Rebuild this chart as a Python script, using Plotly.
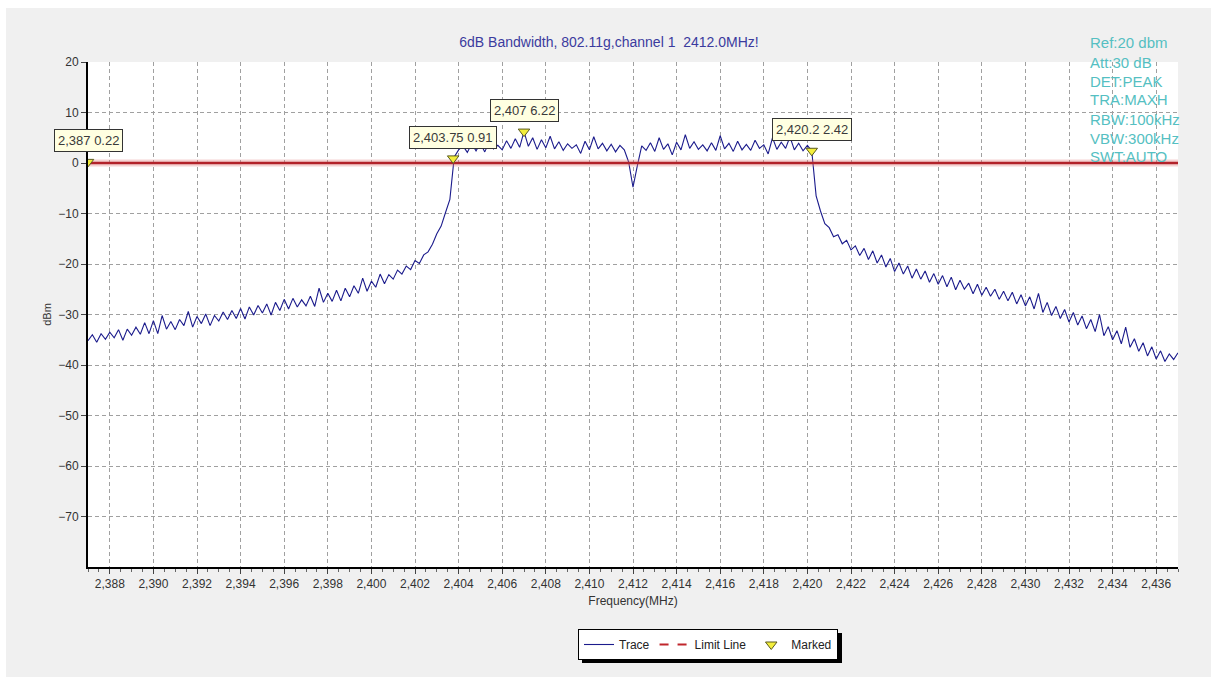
import plotly.graph_objects as go

# ---------------- data ----------------
freq_start = 2387.0   # MHz, first sample
freq_step = 0.2       # MHz between samples

# measured trace level (dBm), one row per MHz (x.0, x.2, x.4, x.6, x.8)
level_dbm = [
    -35.2, -34.0, -35.5, -33.8, -34.9,   # 2387
    -33.5, -34.6, -33.0, -35.1, -32.9,   # 2388
    -34.1, -32.5, -33.9, -31.6, -33.8,   # 2389
    -31.2, -33.8, -30.2, -32.9, -31.4,   # 2390
    -33.0, -31.0, -32.2, -29.4, -32.5,   # 2391
    -30.4, -31.8, -29.9, -32.2, -30.2,   # 2392
    -31.3, -29.5, -31.0, -29.2, -30.8,   # 2393
    -28.8, -30.9, -28.5, -30.1, -28.2,   # 2394
    -29.7, -27.9, -30.1, -27.6, -29.2,   # 2395
    -27.0, -28.9, -26.8, -28.5, -27.1,   # 2396
    -28.3, -26.4, -28.4, -24.8, -27.6,   # 2397
    -25.8, -27.4, -25.2, -27.3, -24.8,   # 2398
    -26.5, -24.3, -25.8, -22.8, -25.4,   # 2399
    -23.4, -24.6, -22.0, -23.9, -22.1,   # 2400
    -23.0, -21.2, -22.0, -20.4, -21.1,   # 2401
    -19.3, -19.9, -18.2, -17.6, -16.1,   # 2402
    -14.0, -12.5, -9.8, -7.2, 1.2,       # 2403
    2.6, 3.4, 2.1, 3.8, 2.4,             # 2404
    3.9, 2.2, 4.1, 2.8, 3.5,             # 2405
    2.6, 4.4, 2.9, 4.8, 3.1,             # 2406
    6.2, 3.3, 5.0, 2.7, 4.6,             # 2407
    3.0, 5.3, 2.8, 4.2, 2.5,             # 2408
    3.8, 2.9, 3.6, 1.9, 4.3,             # 2409
    2.6, 5.2, 2.8, 3.9, 2.4,             # 2410
    3.7, 2.2, 3.5, 2.6, 0.2,             # 2411
    -4.8, -0.5, 3.4, 2.5, 4.0,           # 2412
    2.3, 5.0, 2.7, 3.8, 1.6,             # 2413
    4.1, 2.6, 5.6, 2.9, 4.2,             # 2414
    2.7, 3.6, 2.4, 4.0, 2.5,             # 2415
    5.4, 2.8, 3.9, 2.3, 4.3,             # 2416
    2.6, 3.7, 2.5, 4.5, 2.9,             # 2417
    3.6, 1.8, 5.0, 2.7, 4.1,             # 2418
    2.9, 5.2, 2.6, 3.9, 2.4,             # 2419
    3.5, 2.4, -6.5, -9.5, -12.0,         # 2420
    -12.8, -14.6, -14.2, -16.0, -15.3,   # 2421
    -17.2, -16.4, -18.3, -16.9, -19.1,   # 2422
    -17.4, -19.8, -18.2, -20.6, -18.9,   # 2423
    -21.5, -19.8, -22.0, -20.4, -22.8,   # 2424
    -21.0, -23.0, -21.4, -23.6, -21.9,   # 2425
    -24.0, -22.3, -24.5, -22.6, -25.1,   # 2426
    -23.2, -25.0, -23.8, -25.9, -24.0,   # 2427
    -26.2, -24.6, -26.4, -25.0, -27.0,   # 2428
    -25.4, -27.3, -25.6, -27.9, -26.1,   # 2429
    -28.3, -26.5, -28.9, -25.8, -29.6,   # 2430
    -27.6, -30.2, -28.4, -30.8, -29.0,   # 2431
    -31.5, -29.6, -32.1, -30.3, -32.8,   # 2432
    -31.0, -33.4, -30.0, -34.2, -32.4,   # 2433
    -35.0, -33.2, -35.8, -32.5, -36.5,   # 2434
    -34.8, -37.3, -35.6, -38.2, -36.4,   # 2435
    -38.8, -37.2, -39.3, -37.8, -38.9,   # 2436
    -37.6,                               # 2437
]
freqs = [round(freq_start + freq_step * i, 2) for i in range(len(level_dbm))]

marker_freq = [2387.0, 2403.75, 2407.0, 2420.2]
marker_level = [0.22, 0.91, 6.22, 2.42]
marker_labels = ["2,387 0.22", "2,403.75 0.91", "2,407 6.22", "2,420.2 2.42"]

limit_freq = [2387.0, 2437.0]
limit_level = [0.0, 0.0]

x_ticks = list(range(2388, 2437, 2))
y_ticks = list(range(-70, 21, 10))

info_lines = ["Ref:20 dbm", "Att:30 dB", "DET:PEAK", "TRA:MAXH",
              "RBW:100kHz", "VBW:300kHz", "SWT:AUTO"]
title_text = "6dB Bandwidth, 802.11g,channel 1\u00a0 2412.0MHz!"

# ---------------- layout geometry ----------------
W, H = 1211, 677
L, R, T, B = 88, 33, 62, 110
PW, PH = W - L - R, H - T - B


def px_x(p):
    return (p - L) / PW


def px_y(p):
    return (H - B - p) / PH


FONT = "Liberation Sans, Arial, sans-serif"

fig = go.Figure()

fig.add_trace(go.Scatter(
    x=freqs, y=level_dbm, mode="lines", name="Trace",
    line=dict(color="#1b1b8c", width=1.1), hoverinfo="skip"))

fig.add_trace(go.Scatter(
    x=limit_freq, y=limit_level, mode="lines", showlegend=False,
    line=dict(color="rgba(225,130,130,0.35)", width=7), hoverinfo="skip"))
fig.add_trace(go.Scatter(
    x=limit_freq, y=limit_level, mode="lines", showlegend=False,
    line=dict(color="#b2222a", width=2.5), hoverinfo="skip"))
fig.add_trace(go.Scatter(
    x=[None], y=[None], mode="lines", name="Limit Line",
    line=dict(color="#c0262c", width=2, dash="dash")))

fig.add_trace(go.Scatter(
    x=marker_freq, y=marker_level, mode="markers", name="Marked",
    marker=dict(symbol="triangle-down", size=10, color="#f3ee3c",
                line=dict(color="#5a5a20", width=1)),
    hoverinfo="skip"))

annotations = []
for mf, ml, lab in zip(marker_freq, marker_level, marker_labels):
    annotations.append(dict(
        x=mf, y=ml, xref="x", yref="y", text=lab, showarrow=False,
        yshift=21, xanchor="center", yanchor="middle",
        bgcolor="#ffffe1", bordercolor="#333333", borderwidth=1, borderpad=3,
        font=dict(family=FONT, size=13, color="#3a3a3a")))

info_y_px = [43, 62, 81, 100, 119, 138, 157]
for line_text, py in zip(info_lines, info_y_px):
    annotations.append(dict(
        x=px_x(1088), y=px_y(py), xref="paper", yref="paper",
        text=line_text, showarrow=False, xanchor="left", yanchor="middle",
        font=dict(family=FONT, size=15, color="#55bfc2")))

LEG_L, LEG_T = 578, 629
shapes = [
    # white frame strips at the top and left of the panel
    dict(type="rect", xref="paper", yref="paper",
         x0=px_x(0), x1=px_x(W), y0=px_y(8), y1=px_y(0),
         fillcolor="white", line=dict(width=0), layer="below"),
    dict(type="rect", xref="paper", yref="paper",
         x0=px_x(0), x1=px_x(6), y0=px_y(H), y1=px_y(0),
         fillcolor="white", line=dict(width=0), layer="below"),
    # legend shadow
    dict(type="rect", xref="paper", yref="paper",
         x0=px_x(LEG_L + 4), x1=px_x(LEG_L + 264),
         y0=px_y(LEG_T + 34), y1=px_y(LEG_T + 4),
         fillcolor="black", line=dict(width=0), layer="below"),
]

grid_style = dict(showgrid=True, gridcolor="#a0a0a0", gridwidth=1,
                  griddash="4px,3px")

fig.update_layout(
    width=W, height=H, autosize=False,
    margin=dict(l=L, r=R, t=T, b=B, pad=0),
    paper_bgcolor="#f0f0f0", plot_bgcolor="white",
    font=dict(family=FONT, size=12, color="#333333"),
    title=dict(text=title_text, x=609 / W, xanchor="center",
               y=1 - 42 / H, yanchor="middle", xref="container",
               font=dict(family=FONT, size=14, color="#3b3b9e")),
    showlegend=True,
    legend=dict(orientation="h", x=px_x(LEG_L), y=px_y(LEG_T),
                xanchor="left", yanchor="top",
                bgcolor="white", bordercolor="black", borderwidth=1,
                font=dict(family=FONT, size=12, color="#222222"),
                itemwidth=30),
    xaxis=dict(range=[2387, 2437], tickmode="array", tickvals=x_ticks,
               tickformat=",d", ticks="outside", ticklen=5, tickcolor="#444",
               showline=True, linecolor="black", linewidth=2,
               zeroline=False, mirror=False,
               minor=dict(tickmode="linear", tick0=2387, dtick=0.5,
                          ticks="outside", ticklen=3, tickcolor="#666",
                          showgrid=False),
               title=dict(text="Frequency(MHz)", standoff=6,
                          font=dict(family=FONT, size=12, color="#333")),
               tickfont=dict(family=FONT, size=12, color="#333"),
               **grid_style),
    yaxis=dict(range=[-80, 20], tickmode="array", tickvals=y_ticks,
               ticks="outside", ticklen=5, tickcolor="#444",
               showline=True, linecolor="black", linewidth=2,
               zeroline=False,
               title=dict(text="dBm", standoff=4,
                          font=dict(family=FONT, size=11, color="#333")),
               tickfont=dict(family=FONT, size=12, color="#333"),
               **grid_style),
    annotations=annotations,
    shapes=shapes,
)

fig.write_html("out.html", config={"displayModeBar": False},
               post_script="document.body.style.margin='0';")
